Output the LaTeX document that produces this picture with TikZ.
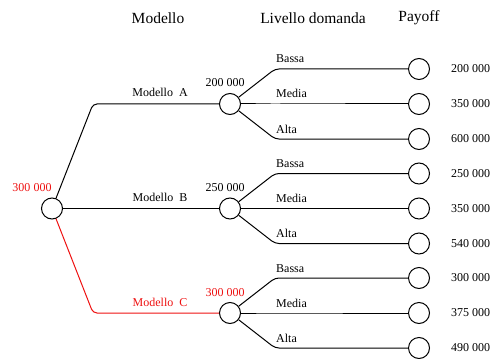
\documentclass[tikz,border=0pt]{standalone}
\usepackage{fontspec}
\setmainfont{Liberation Serif}
\usepackage{tikz}
\usetikzlibrary{positioning}
\definecolor{pick}{HTML}{EE1111}
\tikzset{
  chance/.style={circle, draw=black, line width=1pt, minimum size=21pt, inner sep=0pt},
  head/.style={font=\fontsize{15.5}{18}\selectfont, inner sep=0pt},
  val/.style={font=\fontsize{12}{14}\selectfont, inner sep=0pt},
  edge/.style={line width=1pt, rounded corners=4pt},
}
\begin{document}
\begin{tikzpicture}[x=1pt,y=-1pt]
  \useasboundingbox (0,0) rectangle (494,358);
  % column titles
  \node[head] (hMod) at (158,18) {Modello};
  \node[head] (hDom) at (313,18) {Livello domanda};
  \node[head] (hPay) at (419,18) {Payoff};
  % root decision
  \node[chance] (root) at (52,208.5) {};
  \node[val, text=pick, anchor=base] (vRoot) at (32,191) {300 000};
  % models
  \foreach \m/\y/\v/\c in {A/104/200 000/black, B/208.5/250 000/black, C/313/300 000/pick}{
    \node[chance] (m\m) at (230,\y) {};
    \node[val, text=\c, anchor=base] (v\m) at (225,\y-17) {\v};
    \draw[edge, draw=\c] (root) -- (93,\y) -- (m\m);
    \node[val, text=\c, anchor=base] (t\m) at (160,\y-7) {Modello\ \ \m};
  }
  % demand levels and payoffs
  \foreach \m/\k/\y/\d/\p in {A/1/69/Bassa/200 000, A/2/104/Media/350 000, A/3/139/Alta/600 000,
      B/1/173.5/Bassa/250 000, B/2/208.5/Media/350 000, B/3/243.5/Alta/540 000,
      C/1/278/Bassa/300 000, C/2/313/Media/375 000, C/3/348/Alta/490 000}{
    \node[chance] (l\m\k) at (419,\y) {};
    \draw[edge] (m\m) -- (275,\y) -- (l\m\k);
    \node[val, anchor=base west] (d\m\k) at (276,\y-6) {\d};
    \node[val, anchor=west] (p\m\k) at (451,\y) {\p};
  }
\end{tikzpicture}
\end{document}
